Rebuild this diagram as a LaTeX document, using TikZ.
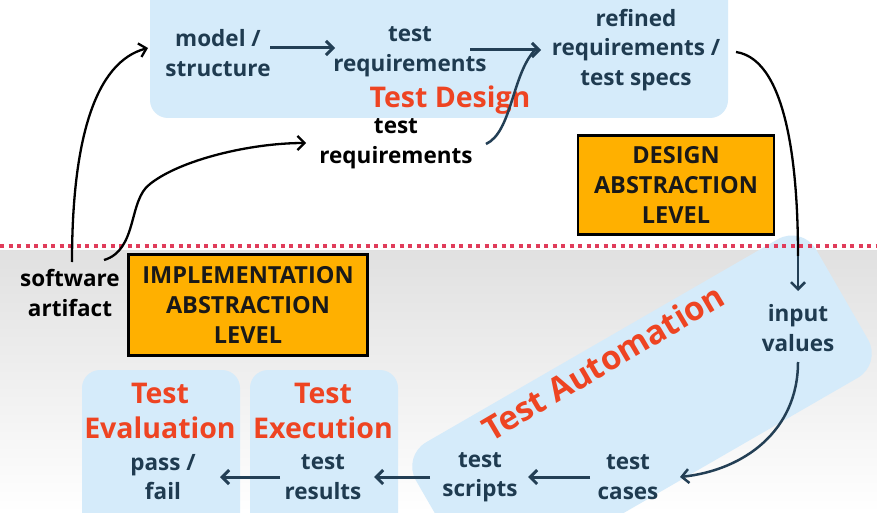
\documentclass[tikz,border=0pt]{standalone}
\usepackage{fontspec}
\setmainfont{Open Sans}
\usetikzlibrary{arrows.meta,shapes.geometric}
\definecolor{txtblue}{HTML}{1F3B50}
\definecolor{arrblue}{HTML}{233F55}
\definecolor{boxblue}{HTML}{D5EBFA}
\definecolor{titlered}{HTML}{EE4422}
\definecolor{lvlorange}{HTML}{FFB000}
\definecolor{dotred}{HTML}{E03C5A}
\tikzset{
  lbl/.style={font=\fontsize{22.5}{29.5}\selectfont\bfseries, text=txtblue, align=center, inner sep=1pt},
  blacklbl/.style={lbl, text=black},
  ttl/.style={font=\fontsize{28.5}{35}\selectfont\bfseries, text=titlered, align=center, inner sep=1pt},
  lvl/.style={draw=black, line width=2.5pt, fill=lvlorange, font=\fontsize{23.5}{30}\selectfont\bfseries, text=black!90, align=center, inner sep=0pt},
  bluearr/.style={draw=arrblue, line width=3pt, -{Straight Barb[length=7pt,width=14pt]}},
  blackarr/.style={draw=black, line width=2.3pt, -{Straight Barb[length=7pt,width=14pt]}},
  bgbox/.style={fill=boxblue, rounded corners=18pt, draw=none}
}
\begin{document}
\begin{tikzpicture}[x=1pt,y=-1pt]
\useasboundingbox (0,0) rectangle (877,513);
\fill[white] (0,0) rectangle (877,513);
% lower grey area
\shade[top color=black!12, bottom color=white] (0,250) rectangle (877,513);
% top design box
\fill[bgbox] (150,-20) rectangle (728,118);
% automation box
\node[bgbox, rounded corners=28pt, rotate=30, minimum width=462pt, minimum height=160pt, inner sep=0pt] (autobox) at (642,410) {};
% eval / exec boxes
\fill[bgbox] (82,370) rectangle (240,540);
\fill[bgbox] (250,370) rectangle (398,540);
% dotted line
\draw[dotred, line width=4pt, dash pattern=on 4pt off 4.5pt] (0,246) -- (877,246);

% nodes
\node[lbl] (model) at (218,53) {model /\\structure};
\node[lbl] (treq) at (410,52) {test\\requirements};
\node[lbl] (refined) at (636,50) {refined\\requirements /\\test specs};
\node[ttl] (tdesign) at (450,100) {Test Design};
\node[blacklbl] (treq2) at (396,144) {test\\requirements};
\node[lvl, minimum width=196pt, minimum height=99pt] (dal) at (676,185) {DESIGN\\ABSTRACTION\\LEVEL};
\node[lvl, minimum width=239pt, minimum height=101pt] (ial) at (248,305) {IMPLEMENTATION\\ABSTRACTION\\LEVEL};
\node[blacklbl] (sa) at (70,293) {software\\artifact};
\node[lbl] (input) at (798,328) {input\\values};
\node[lbl] (cases) at (628,477) {test\\cases};
\node[lbl] (scripts) at (480,477) {test\\scripts};
\node[lbl] (results) at (323,477) {test\\results};
\node[lbl] (pass) at (163,477) {pass /\\fail};
\node[ttl] (teval) at (160,411) {Test\\Evaluation};
\node[ttl] (texec) at (323,411) {Test\\Execution};
\node[ttl, font=\fontsize{33}{38}\selectfont\bfseries, rotate=30.5] (tauto) at (603,362) {Test Automation};

% free ends
\coordinate (reftip) at (541,50);
\coordinate (satop1) at (72,262);
\coordinate (satop2) at (104,260);
\coordinate (refout) at (736,52);
\coordinate (inptop) at (798,256);

% arrows
\draw[bluearr] (270,48) -- (335,48);
\draw[bluearr] (470,50) -- (reftip);
\draw[arrblue, line width=2.5pt] (486,144) .. controls (512,132) and (512,74) .. ([xshift=-6pt]reftip);
\draw[blackarr] (satop1) .. controls (72,140) and (95,62) .. (148,48);
\draw[blackarr] (satop2) .. controls (138,250) and (128,200) .. (150,184)
   .. controls (180,160) and (250,143) .. (306,143);
\draw[black, line width=2.3pt] (refout) .. controls (790,60) and (798,180) .. (inptop);
\draw[bluearr, line width=2.5pt] (inptop) -- (798,291);
\draw[bluearr, line width=2.5pt] (798,362) .. controls (798,430) and (745,470) .. (680,477);
\draw[bluearr] (590,477) -- (528,477);
\draw[bluearr] (430,477) -- (374,477);
\draw[bluearr] (280,477) -- (220,477);
\end{tikzpicture}
\end{document}
